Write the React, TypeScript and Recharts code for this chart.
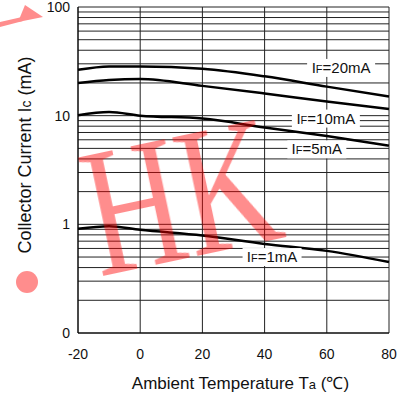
import React from "react";
import {
  LineChart,
  Line,
  XAxis,
  YAxis,
  CartesianGrid,
  ReferenceDot,
} from "recharts";

// ambient temperature (°C) and collector current Ic (mA) per forward current
const temps = [-20, -10, 0, 20, 40, 60, 80];
const ic20mA = [26.4, 28.3, 28.4, 27, 23, 18.5, 15];
const ic10mA = [20, 21.3, 21.7, 18.8, 16, 13.5, 11.5];
const ic5mA = [10.1, 10.8, 10, 9.4, 7.8, 6.5, 5.3];
const ic1mA = [0.91, 0.96, 0.89, 0.79, 0.66, 0.57, 0.45];

const xTicks = [-20, 0, 20, 40, 60, 80];
const yTicks = [
  0.1, 0.2, 0.3, 0.4, 0.5, 0.6, 0.7, 0.8, 0.9, 1, 2, 3, 4, 5, 6, 7, 8, 9, 10,
  20, 30, 40, 50, 60, 70, 80, 90, 100,
];
const yTickLabels: Record<string, string> = {
  "0.1": "0",
  "1": "1",
  "10": "10",
  "100": "100",
};

// where the IF=... tags sit (temperature, current)
const curveTags = [
  { text: "20mA", t: 64.6, ic: 27.5, w: 60 },
  { text: "10mA", t: 59.7, ic: 9.4, w: 60 },
  { text: "5mA", t: 56.8, ic: 4.9, w: 51 },
  { text: "1mA", t: 42.4, ic: 0.5, w: 51 },
];

const data = temps.map((t, i) => ({
  t,
  ic20: ic20mA[i],
  ic10: ic10mA[i],
  ic5: ic5mA[i],
  ic1: ic1mA[i],
}));

const FONT = "'Liberation Sans', Arial, sans-serif";

function YTick(props: any) {
  const { x, y, payload } = props;
  const label = yTickLabels[String(payload.value)];
  if (!label) return <g />;
  return (
    <text x={x} y={y} dy={5} textAnchor="end" fontSize={14} fill="#111" fontFamily={FONT}>
      {label}
    </text>
  );
}

function XTick(props: any) {
  const { x, y, payload } = props;
  return (
    <text x={x} y={y} dy={24} textAnchor="middle" fontSize={14} fill="#111" fontFamily={FONT}>
      {payload.value}
    </text>
  );
}

function tagShape(text: string, w: number) {
  return (props: any) => {
    const { cx, cy } = props;
    return (
      <g>
        <rect x={cx - w / 2 - 4} y={cy - 9} width={w + 8} height={18} fill="#fff" />
        <text x={cx} y={cy + 5} textAnchor="middle" fontSize={15} fill="#111" fontFamily={FONT}>
          I<tspan fontSize={11}>F</tspan>={text}
        </text>
      </g>
    );
  };
}

function XTitle(props: any) {
  const { viewBox } = props;
  const cx = viewBox.x + viewBox.width / 2 + 7;
  return (
    <text x={cx} y={viewBox.y + 56} textAnchor="middle" fontSize={17} fill="#111" fontFamily={FONT}>
      Ambient Temperature T<tspan fontSize={13}>a</tspan> (℃)
    </text>
  );
}

function YTitle(props: any) {
  const { viewBox } = props;
  const cy = viewBox.y + viewBox.height / 2 - 15;
  return (
    <text
      x={31}
      y={cy}
      transform={`rotate(-90, 31, ${cy})`}
      textAnchor="middle"
      fontSize={18}
      fill="#111"
      fontFamily={FONT}
    >
      Collector Current I<tspan fontSize={14}>c</tspan> (mA)
    </text>
  );
}

export default function App() {
  return (
    <div style={{ position: "absolute", left: 0, top: 0, width: 412, height: 396, background: "#fff" }}>
      <LineChart width={412} height={396} data={data} margin={{ top: 7, right: 23, left: 0, bottom: 0 }}>
        <CartesianGrid stroke="#222" strokeWidth={1} />
        <XAxis
          type="number"
          dataKey="t"
          domain={[-20, 80]}
          ticks={xTicks}
          interval={0}
          height={63}
          tickLine={false}
          tickSize={0}
          axisLine={{ stroke: "#000" }}
          tick={<XTick />}
          label={<XTitle />}
        />
        <YAxis
          type="number"
          scale="log"
          domain={[0.1, 100]}
          allowDataOverflow
          ticks={yTicks}
          interval={0}
          width={78}
          tickLine={false}
          tickSize={6}
          axisLine={{ stroke: "#000" }}
          tick={<YTick />}
          label={<YTitle />}
        />
        {curveTags.map((c) => (
          <ReferenceDot key={c.text} x={c.t} y={c.ic} r={1} shape={tagShape(c.text, c.w)} />
        ))}
        <Line type="monotone" dataKey="ic20" stroke="#000" strokeWidth={2.5} dot={false} isAnimationActive={false} />
        <Line type="monotone" dataKey="ic10" stroke="#000" strokeWidth={2.5} dot={false} isAnimationActive={false} />
        <Line type="monotone" dataKey="ic5" stroke="#000" strokeWidth={2.5} dot={false} isAnimationActive={false} />
        <Line type="monotone" dataKey="ic1" stroke="#000" strokeWidth={2.5} dot={false} isAnimationActive={false} />
      </LineChart>
      {/* watermark */}
      <svg
        width={412}
        height={396}
        style={{ position: "absolute", left: 0, top: 0, pointerEvents: "none" }}
      >
        <g fill="#ff0000" opacity={0.45}>
          <polygon points="25,5 43,17 18,22" />
          <polygon points="0,22 22,17 23,21 0,27" />
          <circle cx={27} cy={282} r={11} />
          <g transform="translate(181,197) rotate(-12) scale(0.72,1)">
            <text
              x={0}
              y={61}
              textAnchor="middle"
              fontSize={185}
              fontFamily="'Liberation Serif', 'Times New Roman', serif"
            >
              HK
            </text>
          </g>
        </g>
      </svg>
    </div>
  );
}
